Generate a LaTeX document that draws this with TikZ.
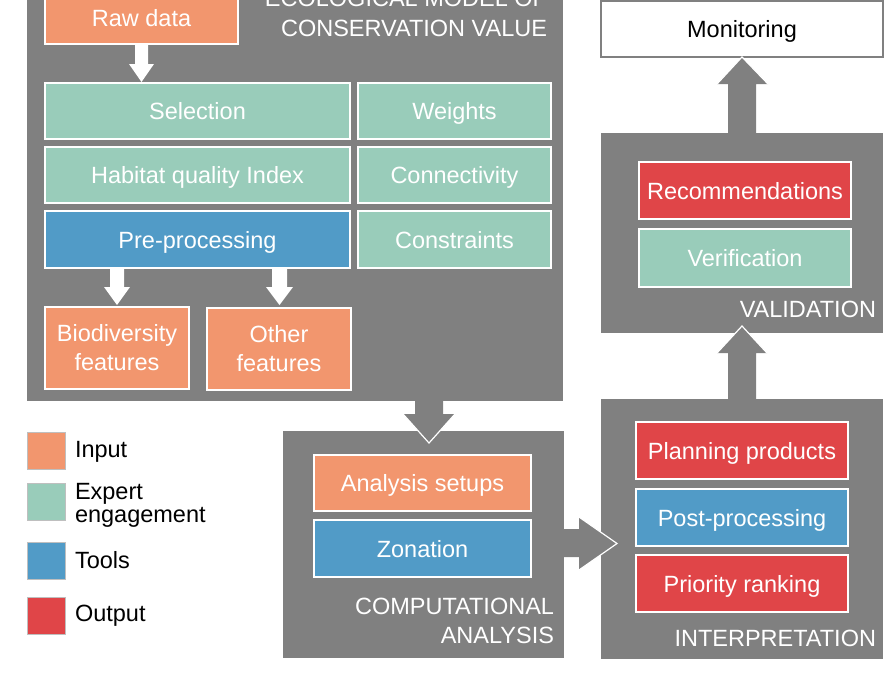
\documentclass[tikz,border=0pt]{standalone}
\usepackage{fontspec}
\setmainfont{Liberation Sans}
\newcommand\fsz{\fontsize{23.5pt}{29pt}\selectfont}
\definecolor{cgray}{HTML}{808080}
\definecolor{corange}{HTML}{F2966E}
\definecolor{cteal}{HTML}{99CCBA}
\definecolor{cblue}{HTML}{519BC7}
\definecolor{cred}{HTML}{E04548}
\newcommand\bx[7]{\node[#6, minimum width={(#4-#2)*1pt}, minimum height={(#5-#3)*1pt}] (#1) at ({(#2+#4)/2},{(#3+#5)/2}) {#7};}
\newcommand\panel[5]{\node[panelbox, minimum width={(#4-#2)*1pt}, minimum height={(#5-#3)*1pt}] (#1) at ({(#2+#4)/2},{(#3+#5)/2}) {};}
\begin{document}
\begin{tikzpicture}[x=1pt,y=-1pt,
  every node/.style={font=\fsz, inner sep=0pt, outer sep=0pt},
  panelbox/.style={fill=cgray, draw=none},
  onebox/.style={draw=white, line width=1.5pt, text=white, text height=17pt, text depth=0pt},
  twobox/.style={draw=white, line width=1.5pt, text=white, align=center},
  titletext/.style={text=white, align=right, anchor=south east},
  legsq/.style={minimum width=38pt, minimum height=37pt, draw=white!75!black, line width=0.4pt},
  legtext/.style={text=black, align=left},
  whitearrow/.style={fill=white, draw=none},
  grayarrow/.style={fill=cgray, draw=none},
  headedge/.style={draw=white, line width=1.2pt}]
\useasboundingbox (0,0) rectangle (891,683);
\clip (0,0) rectangle (891,683);
\fill[white] (0,0) rectangle (891,683);

% ---- main panel: ecological model
\panel{main}{27}{-10}{563}{401}
\node[titletext, font=\fontsize{23.5pt}{30pt}\selectfont] (title) at (547,37) {ECOLOGICAL MODEL OF\\CONSERVATION VALUE};
\bx{raw}{45}{-8}{238}{44}{onebox, fill=corange}{Raw data}
\bx{sel}{45}{83}{350}{139}{onebox, fill=cteal}{Selection}
\bx{wei}{358}{83}{551}{139}{onebox, fill=cteal}{Weights}
\bx{hab}{45}{147}{350}{203}{onebox, fill=cteal}{Habitat quality Index}
\bx{con}{358}{147}{551}{203}{onebox, fill=cteal}{Connectivity}
\bx{pre}{45}{211}{350}{268}{onebox, fill=cblue}{Pre-processing}
\bx{cst}{358}{211}{551}{268}{onebox, fill=cteal}{Constraints}
\bx{bio}{45}{307}{189}{389}{twobox, fill=corange}{Biodiversity\\features}
\bx{oth}{207}{308}{351}{390}{twobox, fill=corange}{Other\\features}

% white arrows inside main panel
\fill[whitearrow] (135,45) -- (148,45) -- (148,64) -- (154,64) -- (141.5,82) -- (129,64) -- (135,64) -- cycle;
\fill[whitearrow] (110,269) -- (124,269) -- (124,287) -- (130,287) -- (117,305) -- (104,287) -- (110,287) -- cycle;
\fill[whitearrow] (272,269) -- (287,269) -- (287,287) -- (293,287) -- (279.5,305) -- (266,287) -- (272,287) -- cycle;

% ---- computational analysis
\panel{comp}{283}{431}{564}{658}
\bx{ana}{314}{455}{531}{511}{onebox, fill=corange}{Analysis setups}
\bx{zon}{314}{520}{531}{577}{onebox, fill=cblue}{Zonation}
\node[titletext] (comptitle) at (554,644) {COMPUTATIONAL\\ANALYSIS};

% ---- interpretation
\panel{interp}{601}{399}{883}{659}
\bx{pla}{636}{422}{848}{479}{onebox, fill=cred}{Planning products}
\bx{pos}{636}{489}{848}{546}{onebox, fill=cblue}{Post-processing}
\bx{pri}{636}{555}{848}{612}{onebox, fill=cred}{Priority ranking}
\node[titletext] (inttitle) at (876,647) {INTERPRETATION};

% ---- validation
\panel{valid}{601}{133}{883}{333}
\bx{rec}{639}{162}{851}{219}{onebox, fill=cred}{Recommendations}
\bx{ver}{639}{229}{851}{287}{onebox, fill=cteal}{Verification}
\node[titletext] (valtitle) at (876,318) {VALIDATION};

% ---- monitoring
\bx{mon}{601}{1}{883}{57}{draw=cgray, line width=1.5pt, fill=white, text=black, text height=17pt, text depth=0pt}{Monitoring}

% ---- gray block arrows
% main -> computational
\fill[grayarrow] (415,400) -- (443,400) -- (443,414) -- (455,414) -- (429,443) -- (403,414) -- (415,414) -- cycle;
\draw[headedge] (455,414) -- (429,443) -- (403,414);
% computational -> interpretation
\fill[grayarrow] (563,529) -- (579,529) -- (579,517) -- (617,543.5) -- (579,570) -- (579,557) -- (563,557) -- cycle;
\draw[headedge] (579,517) -- (617,543.5) -- (579,570);
% interpretation -> validation
\fill[grayarrow] (728,400) -- (728,353) -- (717,353) -- (742,326) -- (767,353) -- (756,353) -- (756,400) -- cycle;
\draw[headedge] (717,353) -- (742,326) -- (767,353);
% validation -> monitoring
\fill[grayarrow] (728,134) -- (728,84) -- (717,84) -- (742,57) -- (768,84) -- (756,84) -- (756,134) -- cycle;
\draw[headedge] (717,84) -- (742,57) -- (768,84);

% ---- legend
\node[legsq, fill=corange] (lin) at (46,450.5) {};
\node[legsq, fill=cteal] (lex) at (46,502) {};
\node[legsq, fill=cblue] (lto) at (46,560.5) {};
\node[legsq, fill=cred] (lou) at (46,615.5) {};
\node[legtext, anchor=base west] (tin) at (75,457) {Input};
\node[legtext, anchor=north west, font=\fontsize{23.5pt}{23pt}\selectfont] (tex) at (75,483) {Expert\\engagement};
\node[legtext, anchor=base west] (tto) at (75,568) {Tools};
\node[legtext, anchor=base west] (tou) at (75,621) {Output};
\end{tikzpicture}
\end{document}
